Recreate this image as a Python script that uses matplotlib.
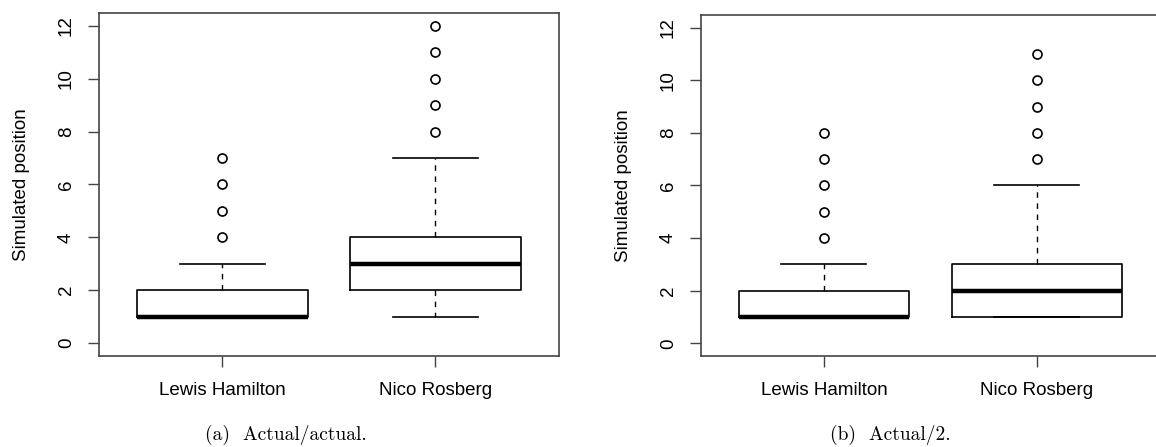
import matplotlib.pyplot as plt

plt.rcParams['font.family'] = ['Liberation Sans', 'DejaVu Sans']

drivers = ['Lewis Hamilton', 'Nico Rosberg']

# (a) actual/actual
a_q1 = [1, 2]
a_med = [1, 3]
a_q3 = [2, 4]
a_lo = [1, 1]
a_hi = [3, 7]
a_out = [[4, 5, 6, 7], [8, 9, 10, 11, 12]]

# (b) actual/2
b_q1 = [1, 1]
b_med = [1, 2]
b_q3 = [2, 3]
b_lo = [1, 1]
b_hi = [3, 6]
b_out = [[4, 5, 6, 7, 8], [7, 8, 9, 10, 11]]

y_ticks = [0, 2, 4, 6, 8, 10, 12]

label_font = {'size': 13.5}


def draw_panel(ax, q1, med, q3, lo, hi, out):
    stats = []
    for i, name in enumerate(drivers):
        stats.append(dict(label=name, q1=q1[i], med=med[i], q3=q3[i],
                          whislo=lo[i], whishi=hi[i], fliers=out[i]))
    ax.bxp(stats, widths=0.8, capwidths=0.4,
           boxprops=dict(color='black', linewidth=1.2),
           medianprops=dict(color='black', linewidth=3.2, solid_capstyle='butt'),
           whiskerprops=dict(color='black', linewidth=1.0, linestyle=(0, (4, 4))),
           capprops=dict(color='black', linewidth=1.2),
           flierprops=dict(marker='o', markerfacecolor='none', markeredgecolor='black',
                           markersize=6.5, markeredgewidth=1.2))
    ax.set_xlim(0.42, 2.58)
    ax.set_ylim(-0.48, 12.48)
    ax.set_yticks(y_ticks)
    ax.set_yticklabels([str(t) for t in y_ticks], rotation=90, va='center', fontsize=13.5)
    ax.set_xticks([1, 2])
    ax.set_xticklabels(drivers, fontsize=13.5)
    ax.tick_params(axis='both', length=8, width=1.0, color='#444444')
    ax.tick_params(axis='y', pad=9)
    ax.tick_params(axis='x', pad=11)
    ax.set_ylabel('Simulated position', fontdict=label_font, labelpad=20)
    for s in ax.spines.values():
        s.set_color('#444444')
        s.set_linewidth(1.2)


fig = plt.figure(figsize=(11.56, 4.47), dpi=100)
ax_a = fig.add_axes([0.0853, 0.2043, 0.3983, 0.766])
ax_b = fig.add_axes([0.606, 0.2036, 0.3975, 0.763])

draw_panel(ax_a, a_q1, a_med, a_q3, a_lo, a_hi, a_out)
draw_panel(ax_b, b_q1, b_med, b_q3, b_lo, b_hi, b_out)

fig.text(286 / 1156, 1 - 435 / 447, '(a)  Actual/actual.', family='cmr10',
         fontsize=14, ha='center', va='center')
fig.text(890 / 1156, 1 - 435 / 447, '(b)  Actual/2.', family='cmr10',
         fontsize=14, ha='center', va='center')

fig.savefig('out.png', dpi=100)
